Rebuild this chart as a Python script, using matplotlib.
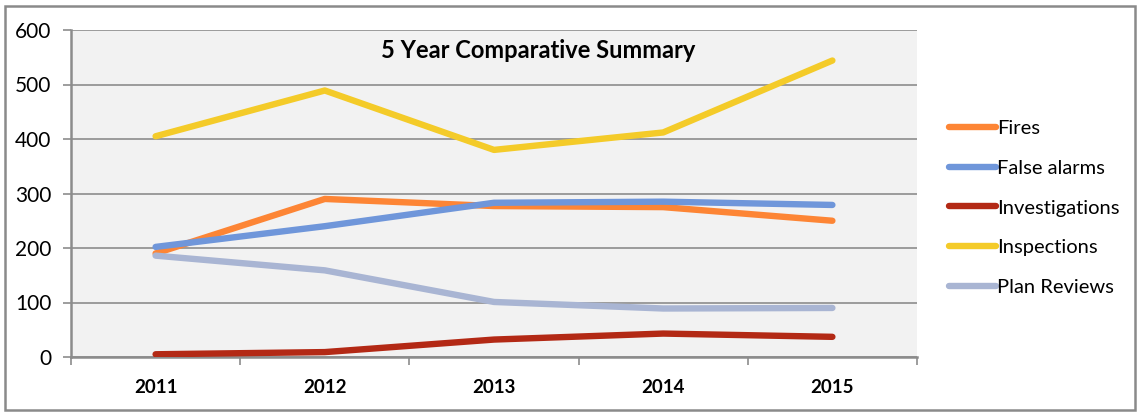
import matplotlib
matplotlib.use("Agg")
import matplotlib.pyplot as plt
from matplotlib.patches import Rectangle

years = ["2011", "2012", "2013", "2014", "2015"]
fires = [190, 290, 277, 275, 250]
false_alarms = [202, 240, 283, 285, 279]
investigations = [5, 9, 32, 43, 37]
inspections = [405, 489, 380, 412, 544]
plan_reviews = [186, 159, 101, 89, 90]

series = [
    ("Fires", fires, "#fd8535"),
    ("False alarms", false_alarms, "#6f96da"),
    ("Investigations", investigations, "#b32915"),
    ("Inspections", inspections, "#f4cb29"),
    ("Plan Reviews", plan_reviews, "#a9b5d3"),
]

plt.rcParams['font.family'] = ['Lato', 'DejaVu Sans']

W, H = 1141, 412
fig = plt.figure(figsize=(W / 100, H / 100), dpi=100)
fig.patch.set_facecolor("white")

# outer chart border
fig.patches.append(Rectangle((5 / W, 2 / H), 1130 / W, 404 / H, transform=fig.transFigure,
                             fill=False, edgecolor="#8a8a8a", linewidth=1.8))

ax = fig.add_axes([71 / W, (412 - 357) / H, (917 - 71) / W, (357 - 30) / H])
ax.set_facecolor("#f2f2f2")

x = list(range(len(years)))
lines = []
for name, vals, col in series:
    ln, = ax.plot(x, vals, color=col, linewidth=4.6, solid_capstyle="round",
                  solid_joinstyle="round", label=name, zorder=3)
    lines.append(ln)

ax.set_xlim(-0.5, len(years) - 0.5)
ax.set_ylim(0, 600)
ax.set_yticks(range(0, 601, 100))
ax.yaxis.grid(True, color="#8c8c8c", linewidth=1.2)
ax.set_axisbelow(True)

ax.set_xticks([i - 0.5 for i in range(len(years) + 1)])
ax.set_xticklabels([])
ax.set_xticks(x, minor=True)
ax.set_xticklabels(years, minor=True, fontsize=13.5, fontweight="bold")
ax.tick_params(axis="x", which="minor", length=0, pad=16)
ax.tick_params(axis="x", which="major", length=6, width=1.2, color="#8c8c8c", direction="out")
ax.tick_params(axis="y", length=6, width=1.2, color="#8c8c8c", labelsize=15, pad=8)

for s in ["top", "right"]:
    ax.spines[s].set_visible(False)
for s in ["left", "bottom"]:
    ax.spines[s].set_color("#8c8c8c")
    ax.spines[s].set_linewidth(1.8)

ax.text(0.552, 0.938, "5 Year Comparative Summary", transform=ax.transAxes,
        ha="center", va="center", fontsize=17, fontweight="bold", zorder=5)

leg = fig.legend(handles=lines, loc="center left",
                 bbox_to_anchor=(949 / W, (412 - 208) / H),
                 frameon=False, fontsize=14.5, handlelength=2.35,
                 handletextpad=0.05, labelspacing=1.12, borderpad=0, borderaxespad=0)

fig.savefig("out.png", dpi=100)
